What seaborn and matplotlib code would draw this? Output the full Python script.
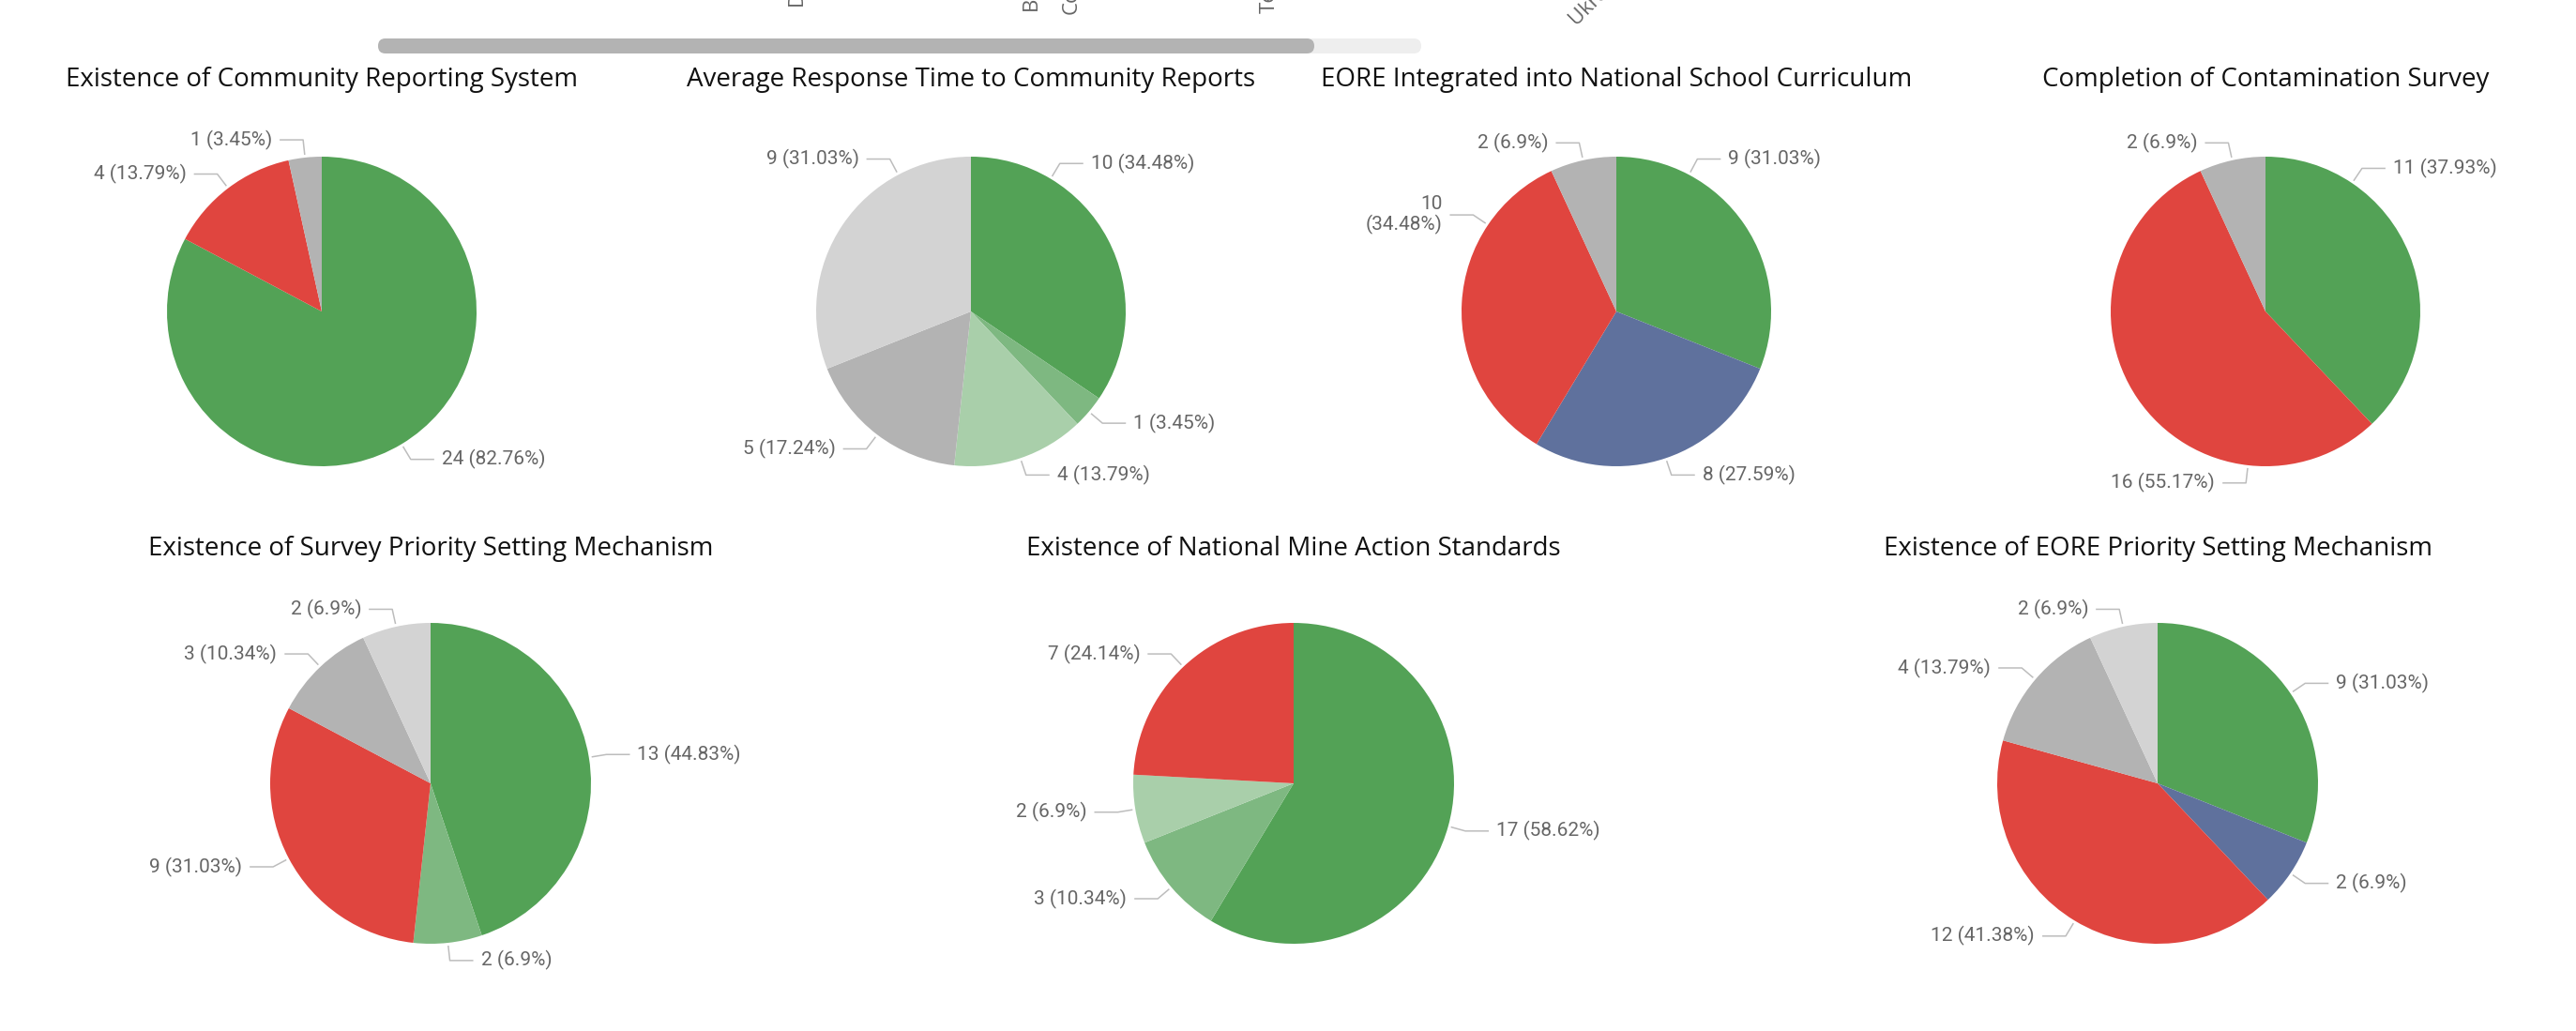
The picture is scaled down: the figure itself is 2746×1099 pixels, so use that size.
import numpy as np
import matplotlib
matplotlib.use('Agg')
import matplotlib.pyplot as plt
import seaborn as sns
from matplotlib.patches import FancyBboxPatch

# ---- DATA ----
titles = [
    "Existence of Community Reporting System",
    "Average Response Time to Community Reports",
    "EORE Integrated into National School Curriculum",
    "Completion of Contamination Survey",
    "Existence of Survey Priority Setting Mechanism",
    "Existence of National Mine Action Standards",
    "Existence of EORE Priority Setting Mechanism",
]
reporting_system = [24, 4, 1]
response_time = [10, 1, 4, 5, 9]
eore_curriculum = [9, 8, 10, 2]
contamination_survey = [11, 16, 2]
survey_priority = [13, 2, 9, 3, 2]
mine_action_standards = [17, 3, 2, 7]
eore_priority = [9, 2, 12, 4, 2]
top_axis_labels = ["DR Congo", "Bosnia and Herzegovina", "Colombia", "Territories", "Ukraine"]

# ---- COLORI ----
GREEN, RED, GREY, LGREY = "#53A256", "#E0453F", "#B3B3B3", "#D3D3D3"
MGREEN, PGREEN, BLUE = "#7EB881", "#A9CFAA", "#5F719D"
pie_colors = [
    [GREEN, RED, GREY],
    [GREEN, MGREEN, PGREEN, GREY, LGREY],
    [GREEN, BLUE, RED, GREY],
    [GREEN, RED, GREY],
    [GREEN, MGREEN, RED, GREY, LGREY],
    [GREEN, MGREEN, PGREEN, RED],
    [GREEN, BLUE, RED, GREY, LGREY],
]
all_values = [reporting_system, response_time, eore_curriculum, contamination_survey,
              survey_priority, mine_action_standards, eore_priority]

# ---- LAYOUT (pixel) ----
W, H = 2746, 1099
centers = [(343, 332), (1035, 332), (1723, 332), (2415, 332),
           (459, 835), (1379, 835), (2300, 835)]
radii = [165, 165, 165, 165, 171, 171, 171]
title_y = [85, 85, 85, 85, 585, 585, 585]
# labels moved by the dashboard engine (angle clockwise from 12 o'clock)
label_angle_fix = {(1, 0): 31, (1, 4): 332, (2, 0): 28, (2, 2): 304, (3, 0): 34, (3, 1): 186.5}
wrapped = {(2, 2)}

sns.set_theme(style="white")
plt.rcParams['font.family'] = ['Open Sans', 'DejaVu Sans']

fig = plt.figure(figsize=(W / 100, H / 100), dpi=100)
ax = fig.add_axes([0, 0, 1, 1])

label_color = "#666666"
line_color = "#BDBDBD"

for i, vals in enumerate(all_values):
    cx, cy = centers[i][0], H - centers[i][1]
    r = radii[i]
    wedges, _ = ax.pie(vals, colors=sns.color_palette(pie_colors[i]), startangle=90,
                       counterclock=False, center=(cx, cy), radius=r,
                       wedgeprops=dict(linewidth=0))
    total = sum(vals)
    for j, (w, v) in enumerate(zip(wedges, vals)):
        mid = (w.theta1 + w.theta2) / 2
        a = (90 - mid) % 360
        a = label_angle_fix.get((i, j), a)
        ar = np.deg2rad(a)
        p0 = (cx + (r + 3) * np.sin(ar), cy + (r + 3) * np.cos(ar))
        p1 = (cx + (r + 19) * np.sin(ar), cy + (r + 19) * np.cos(ar))
        side = 1 if a < 180 else -1
        p2 = (p1[0] + side * 25, p1[1])
        ax.plot([p0[0], p1[0], p2[0]], [p0[1], p1[1], p2[1]], color=line_color, lw=1.1,
                solid_capstyle='butt')
        pct = f"{round(v / total * 100, 2):g}"
        txt = f"{v}\n({pct}%)" if (i, j) in wrapped else f"{v} ({pct}%)"
        ax.text(p2[0] + side * 8, p2[1], txt, ha='left' if side > 0 else 'right',
                va='center', color=label_color, fontsize=15, family=['Roboto', 'DejaVu Sans'],
                multialignment='right', linespacing=1.1)
    ax.text(cx, H - title_y[i], titles[i], ha='center', va='center', fontsize=20, color='#111111')

# ---- TOP: clipped axis labels and scrollbar of the chart above ----
frag_pos = [(852, 8, 90), (1102, 13, 90), (1142, 15, 90), (1353, 14, 90), (1676, 23, 45)]
for (x, y, rot), lab in zip(frag_pos, top_axis_labels):
    ax.text(x, H - y, lab, rotation=rot, rotation_mode='anchor', ha='left', va='center',
            fontsize=16, color='#666666', clip_on=True)
ax.add_patch(FancyBboxPatch((411, H - 49), 1096, 0, boxstyle="round,pad=8", fc="#EEEEEE", ec='none'))
ax.add_patch(FancyBboxPatch((411, H - 49), 982, 0, boxstyle="round,pad=8", fc="#B3B3B3", ec='none'))

ax.set_xlim(0, W)
ax.set_ylim(0, H)
ax.set_aspect('equal')
ax.axis('off')

fig.savefig("out.png", dpi=100, facecolor='white')
